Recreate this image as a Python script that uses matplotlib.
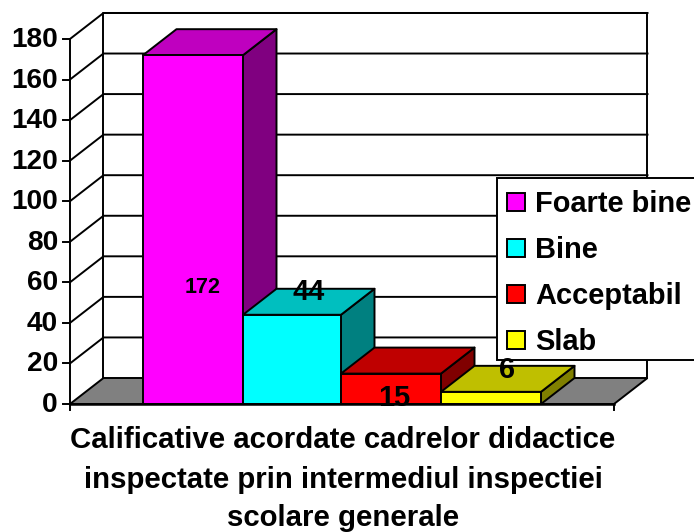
import matplotlib
matplotlib.use("Agg")
import matplotlib.pyplot as plt
from matplotlib.patches import Polygon, Rectangle

# --- DATA ---
categories = ["Foarte bine", "Bine", "Acceptabil", "Slab"]
values = [172, 44, 15, 6]
y_ticks = [0, 20, 40, 60, 80, 100, 120, 140, 160, 180]
title_lines = ["Calificative acordate cadrelor didactice",
               "inspectate prin intermediul inspectiei",
               "scolare generale"]

# --- COLOURS ---
front_cols = ["#ff00ff", "#00ffff", "#ff0000", "#ffff00"]
top_cols = ["#bf00bf", "#00bfbf", "#bf0000", "#bfbf00"]
side_cols = ["#800080", "#008080", "#800000", "#808000"]

# --- GEOMETRY (x in pixels, y in value units) ---
PX_PER_UNIT = 2.028
Y0_PX = 404
X_LEFT, X_RIGHT = 70, 614
DX = 33.5
DY = 26 / PX_PER_UNIT
Y_TOP = 180
bar_edges = [143, 243, 341, 441, 541]
LW = 1.4
FONT = "Liberation Sans"

plt.rcParams["font.family"] = FONT
plt.rcParams["font.weight"] = "bold"

fig = plt.figure(figsize=(6.94, 5.32), dpi=100)
ax = fig.add_axes([0, 0, 1, 1])
ax.set_xlim(0, 694)
ax.set_ylim(-(532 - Y0_PX) / PX_PER_UNIT, Y0_PX / PX_PER_UNIT)
ax.axis("off")


def px_y(py):
    return (Y0_PX - py) / PX_PER_UNIT


# floor and walls
ax.add_patch(Polygon([(X_LEFT, 0), (X_LEFT + DX, DY), (X_RIGHT + DX, DY), (X_RIGHT, 0)],
                     fc="#808080", ec="black", lw=LW, zorder=1))
ax.plot([X_LEFT + DX, X_LEFT + DX, X_RIGHT + DX, X_RIGHT + DX],
        [DY, Y_TOP + DY, Y_TOP + DY, DY], color="black", lw=LW, zorder=1)
for t in y_ticks[1:]:
    ax.plot([X_LEFT, X_LEFT + DX, X_RIGHT + DX], [t, t + DY, t + DY],
            color="black", lw=LW, zorder=1)

# y axis, ticks and labels
ax.plot([X_LEFT, X_LEFT], [-3, Y_TOP], color="black", lw=LW, zorder=2)
for t in y_ticks:
    ax.plot([X_LEFT - 7, X_LEFT], [t, t], color="black", lw=LW, zorder=2)
    ax.text(58, px_y(Y0_PX - t * PX_PER_UNIT - 2), str(t), ha="right", va="center_baseline",
            fontsize=20.2, zorder=5)
ax.plot([X_LEFT, X_RIGHT], [0, 0], color="black", lw=1.8, zorder=4)
ax.plot([X_RIGHT, X_RIGHT], [0, -3], color="black", lw=LW, zorder=4)

# bars
for i, v in enumerate(values):
    x0, x1 = bar_edges[i], bar_edges[i + 1]
    ax.add_patch(Polygon([(x1, 0), (x1 + DX, DY), (x1 + DX, v + DY), (x1, v)],
                         fc=side_cols[i], ec="black", lw=LW, zorder=3, joinstyle="round"))
    ax.add_patch(Polygon([(x0, v), (x0 + DX, v + DY), (x1 + DX, v + DY), (x1, v)],
                         fc=top_cols[i], ec="black", lw=LW, zorder=3, joinstyle="round"))
    ax.add_patch(Rectangle((x0, 0), x1 - x0, v,
                           fc=front_cols[i], ec="black", lw=LW, zorder=3))

# legend box, runs off the right of the picture
ax.add_patch(Rectangle((497, px_y(360)), 210, (360 - 178) / PX_PER_UNIT,
                       fc="white", ec="black", lw=LW, zorder=6))
swatch_y = [202, 248, 294, 340]
legend_y = [212, 258, 304, 350]
for name, col, sy, py in zip(categories, front_cols, swatch_y, legend_y):
    ax.add_patch(Rectangle((507, px_y(sy + 9)), 18, 18 / PX_PER_UNIT,
                           fc=col, ec="black", lw=LW, zorder=7))
    ax.text(535, px_y(py), name, ha="left", va="baseline", fontsize=20.9, zorder=7)

# data labels
label_x = [203, 309, 394, 507]
label_py = [285, 289, 395, 367]
label_size = [15.5, 20.9, 20.9, 20.9]
for v, lx, ly, fs in zip(values, label_x, label_py, label_size):
    ax.text(lx, px_y(ly), str(v), ha="center", va="center_baseline", fontsize=fs, zorder=8)

# category title under the axis, last line sits on the bottom edge as in the original
title_py = [448, 488, 526]
for line, py in zip(title_lines, title_py):
    ax.text(343, px_y(py), line, ha="center", va="baseline", fontsize=21.2, zorder=5)

fig.savefig("out.png", dpi=100, facecolor="white")
